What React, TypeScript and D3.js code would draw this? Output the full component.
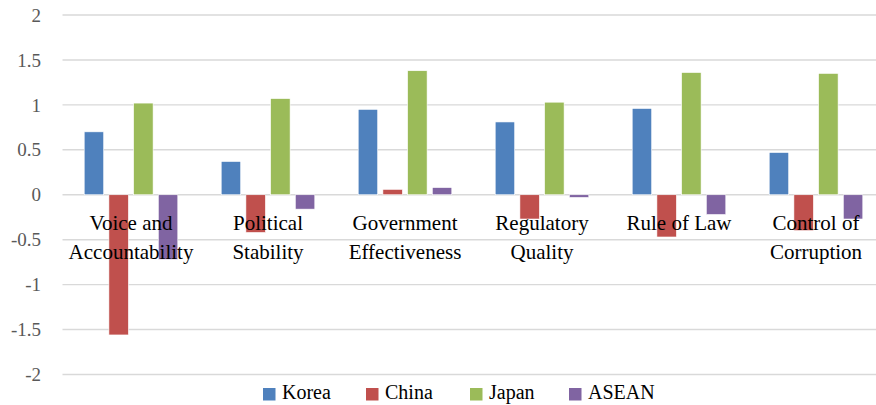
import React from "react";
import * as d3 from "d3";

const categories = [
  ["Voice and", "Accountability"],
  ["Political", "Stability"],
  ["Government", "Effectiveness"],
  ["Regulatory", "Quality"],
  ["Rule of Law"],
  ["Control of", "Corruption"],
];
const seriesNames = ["Korea", "China", "Japan", "ASEAN"];
const colors = ["#4F81BD", "#C0504D", "#9BBB59", "#8064A2"];
const korea = [0.7, 0.37, 0.95, 0.81, 0.96, 0.47];
const china = [-1.56, -0.42, 0.06, -0.27, -0.47, -0.4];
const japan = [1.02, 1.07, 1.38, 1.03, 1.36, 1.35];
const asean = [-0.72, -0.16, 0.08, -0.03, -0.22, -0.27];
const yTicks = [-2, -1.5, -1, -0.5, 0, 0.5, 1, 1.5, 2];

const W = 876;
const H = 405;
const left = 62.5;
const right = 884.5;
const top = 15;
const bottom = 374.5;
const FONT = "'Liberation Serif', 'DejaVu Serif', serif";

export default function App() {
  const series = [korea, china, japan, asean];
  const x = d3
    .scaleBand<number>()
    .domain(d3.range(categories.length))
    .range([left, right]);
  const y = d3.scaleLinear().domain([-2, 2]).range([bottom, top]);
  const bw = 19.5;
  const gap = 5.2;
  const step = bw + gap;
  const groupW = bw * 4 + gap * 3;
  const legendX = [263, 366, 470, 569];

  return (
    <svg
      width={W}
      height={H}
      style={{ position: "absolute", left: 0, top: 0, background: "#fff" }}
    >
      {yTicks.map((t) => (
        <g key={t}>
          <line
            x1={left}
            x2={right}
            y1={y(t)}
            y2={y(t)}
            stroke="#D9D9D9"
            strokeWidth={1.4}
          />
          <text
            x={41}
            y={y(t)}
            dy="0.35em"
            textAnchor="end"
            fontFamily={FONT}
            fontSize={19}
            fill="#595959"
          >
            {t}
          </text>
        </g>
      ))}
      {series.map((vals, si) =>
        vals.map((v, ci) => {
          const cx = (x(ci) as number) + x.bandwidth() / 2 - groupW / 2 + si * step;
          return (
            <rect
              key={si + "-" + ci}
              x={cx}
              y={Math.min(y(v), y(0))}
              width={bw}
              height={Math.abs(y(v) - y(0))}
              fill={colors[si]}
              stroke="#fff"
              strokeWidth={0.6}
            />
          );
        })
      )}
      {categories.map((lines, ci) => (
        <text
          key={ci}
          textAnchor="middle"
          fontFamily={FONT}
          fontSize={21}
          fill="#000"
        >
          {lines.map((l, li) => (
            <tspan
              key={li}
              x={(x(ci) as number) + x.bandwidth() / 2}
              y={230 + li * 29}
            >
              {l}
            </tspan>
          ))}
        </text>
      ))}
      {seriesNames.map((n, i) => (
        <g key={n}>
          <rect x={legendX[i]} y={388} width={12.5} height={12.5} fill={colors[i]} />
          <text
            x={legendX[i] + 19}
            y={398.5}
            fontFamily={FONT}
            fontSize={20}
            fill="#000"
          >
            {n}
          </text>
        </g>
      ))}
    </svg>
  );
}
